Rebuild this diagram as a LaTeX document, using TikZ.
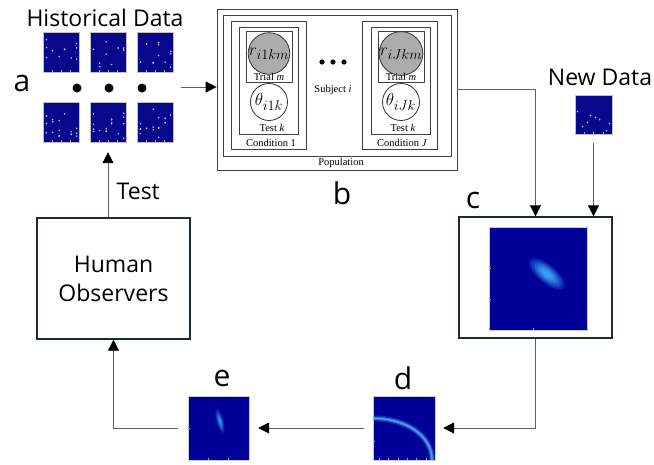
\documentclass[tikz,border=0pt]{standalone}
\usepackage{fontspec}
\setmainfont{Open Sans}
\newfontfamily\platefont{Liberation Serif}
\usetikzlibrary{arrows.meta,positioning,calc,fit}

\definecolor{thumbblue}{RGB}{8,8,140}
\definecolor{heat}{RGB}{0,0,152}
\definecolor{dotgray}{RGB}{190,190,220}
\definecolor{glow}{RGB}{60,170,255}
\definecolor{wire}{RGB}{95,95,95}
\definecolor{frame}{RGB}{30,42,55}
\definecolor{platefill}{RGB}{172,172,172}

\tikzstyle{arrow} = [
    line width=0.8pt,
    draw=wire,
    -{Triangle[length=11pt,width=11pt,color=black]}
]
\tikzstyle{thumb} = [
    rectangle,
    draw=gray!50,
    fill=thumbblue,
    minimum width=36pt,
    minimum height=40pt,
    inner sep=0pt
]
\tikzstyle{heatmap} = [
    rectangle,
    draw=gray!40,
    fill=heat,
    inner sep=0pt
]
\tikzstyle{panel} = [
    rectangle,
    draw=frame,
    line width=1.3pt,
    inner sep=0pt
]
\tikzstyle{plate} = [
    rectangle,
    draw=black!75,
    line width=0.8pt,
    inner sep=0pt
]
\tikzstyle{var} = [
    circle,
    draw=black!80,
    line width=0.8pt,
    minimum size=37pt,
    inner sep=0pt,
    font=\fontsize{19}{22}\selectfont
]
\tikzstyle{tag} = [font=\fontsize{30}{34}\selectfont]
\tikzstyle{title} = [font=\fontsize{23}{29}\selectfont]
\tikzstyle{platelabel} = [font=\platefont\fontsize{10.5}{12}\selectfont, inner sep=0pt]

% scattered response dots in columns
\newcommand{\scatterdots}[1]{%
  \foreach \cx in {0.1,0.27,0.45,0.6,0.78,0.93}{
    \pgfmathsetmacro{\ny}{int(1+4*rnd)}
    \foreach \k in {1,...,\ny}{
      \pgfmathsetmacro{\cy}{0.1+0.75*rnd}
      \fill[dotgray] ($(#1.south west)!\cx!(#1.south east) + (0,-\cy*40)$) circle (0.9);
    }
  }}

% small axis ticks on a map
\newcommand{\mapticks}[3]{%
  \foreach \f in {#2}
    \draw[gray!70, line width=0.5pt] ($(#1.south west)!\f!(#1.south east)$) -- ++(0,-2.5);
  \foreach \f in {#3}
    \draw[gray!70, line width=0.5pt] ($(#1.south west)!\f!(#1.north west)$) -- ++(2.5,0);}

% soft glowing blob: centre, angle, half length, half width, strength
\newcommand{\blob}[5]{%
  \foreach \s/\o in {1/0.10,0.85/0.12,0.7/0.15,0.55/0.2,0.4/0.25,0.25/0.3}
    \fill[glow, opacity=#5*\o, rotate around={#2:#1}] #1 ellipse ({#3*\s} and {#4*\s});}

\begin{document}
\begin{tikzpicture}[x=1pt, y=-1pt]
    \useasboundingbox (0,0) rectangle (654,464);
    \pgfmathsetseed{11}

    % a: historical data
    \node[title] (histlbl) at (105,18) {Historical Data};
    \node[tag] (alab) at (22,83) {a};
    \foreach \i/\x in {1/61,2/108,3/155}{
        \node[thumb] (top\i) at (\x,52) {};
        \node[thumb] (bot\i) at (\x,122) {};
        \scatterdots{top\i}
        \scatterdots{bot\i}
        \mapticks{top\i}{0.25,0.5,0.75}{}
        \mapticks{bot\i}{0.25,0.5,0.75}{}
    }
    \foreach \x in {77,109,142}
        \fill (\x,88) circle (4.5);
    \node[fit=(top1)(bot3), inner sep=8pt] (hist) {};

    % b: hierarchical model
    \node[plate, minimum width=240pt, minimum height=161pt] (pop) at (337,89.5) {};
    \node[plate, minimum width=228pt, minimum height=141pt] (subj) at (337,85.5) {};
    \node[plate, minimum width=75pt, minimum height=128pt] (cond1) at (268.5,85) {};
    \node[plate, minimum width=59pt, minimum height=107pt] (test1) at (268.5,80.5) {};
    \node[plate, minimum width=46pt, minimum height=51pt] (trial1) at (269,56.5) {};
    \node[var, fill=platefill] (r1) at (269,53.5) {$r_{i1km}$};
    \node[var, fill=white] (th1) at (269,102) {$\theta_{i1k}$};
    \node[plate, minimum width=75pt, minimum height=128pt] (condJ) at (399.5,85) {};
    \node[plate, minimum width=59pt, minimum height=107pt] (testJ) at (401,80.5) {};
    \node[plate, minimum width=46pt, minimum height=51pt] (trialJ) at (401,56.5) {};
    \node[var, fill=platefill] (rJ) at (401,53.5) {$r_{iJkm}$};
    \node[var, fill=white] (thJ) at (401,102) {$\theta_{iJk}$};
    \node[platelabel] (trial1lbl) at (269,77) {Trial \textit{m}};
    \node[platelabel] (trialJlbl) at (401,77) {Trial \textit{m}};
    \node[platelabel] (test1lbl) at (272,128) {Test \textit{k}};
    \node[platelabel] (testJlbl) at (403,128) {Test \textit{k}};
    \node[platelabel] (cond1lbl) at (271,143) {Condition 1};
    \node[platelabel] (condJlbl) at (402,143) {Condition \textit{J}};
    \node[platelabel] (subjlbl) at (333,90) {Subject \textit{i}};
    \node[platelabel] (poplbl) at (341,163) {Population};
    \foreach \x in {322,333,344}
        \fill (\x,62) circle (2.6);
    \node[tag] (blab) at (342,193) {b};

    % new data
    \node[title] (newlbl) at (600,77) {New Data};
    \node[thumb, minimum width=37pt, minimum height=39pt] (newd) at (593.5,114.5) {};
    \foreach \u/\v in {-16/-3,-3/1,-6/8,2/3,6/5,13/16,16/9,0/18,-11/12}
        \fill[dotgray] ($(newd.center)+(\u,\v)$) circle (0.9);
    \mapticks{newd}{0.25,0.5,0.75}{}

    % c: posterior
    \node[panel, minimum width=153pt, minimum height=121pt] (cpanel) at (535.5,277.5) {};
    \node[heatmap, minimum width=98pt, minimum height=103pt] (cmap) at (538,278.5) {};
    \begin{scope}
        \clip (cmap.south west) rectangle (cmap.north east);
        \blob{(547,274)}{-40}{22}{9}{1.9}
    \end{scope}
    \mapticks{cmap}{0,0.45,1}{0.3,0.6}
    \node[tag] (clab) at (473,200) {c};

    % d: predicted curve
    \node[heatmap, minimum width=62pt, minimum height=64pt] (dmap) at (404,428) {};
    \coordinate (dstart) at ($(dmap.north west)!0.35!(dmap.south west)$);
    \coordinate (dend) at ($(dmap.south west)!0.95!(dmap.south east)$);
    \begin{scope}
        \clip (dmap.south west) rectangle (dmap.north east);
        \foreach \w/\o in {6/0.2, 3.5/0.45, 1.3/0.7}
            \draw[glow!85!white, line width=\w pt, opacity=\o]
                (dstart) .. controls ++(34,0) and ++(0,-24) .. (dend);
    \end{scope}
    \mapticks{dmap}{0.1,0.25,0.4,0.55,0.7,0.85}{0.3,0.65}
    \node[tag] (dlab) at (403,378) {d};

    % e: selected stimulus
    \node[heatmap, minimum width=61pt, minimum height=64pt] (emap) at (218.5,428) {};
    \begin{scope}
        \clip (emap.south west) rectangle (emap.north east);
        \blob{(220,421)}{-75}{13}{3.5}{1.3}
    \end{scope}
    \mapticks{emap}{0.33,0.66}{0.5}
    \node[tag] (elab) at (222,378) {e};

    % human observers
    \node[panel, minimum width=153pt, minimum height=121pt, title, align=center] (human)
        at (113.5,278.5) {Human\\Observers};

    % connectors
    \draw[arrow] (hist.east) -- (hist.east -| pop.west);
    \draw[arrow] (pop.east) -| (cpanel.north);
    \draw[arrow, shorten <=9pt] (newd.south) -- (newd.south |- cpanel.north);
    \draw[arrow, shorten >=8pt] (cpanel.south) |- (dmap.east);
    \draw[arrow, shorten <=9pt, shorten >=9pt] (dmap.west) -- (emap.east);
    \draw[arrow, shorten <=10pt] (emap.west) -| (human.south);
    \draw[arrow, shorten >=10pt] (human.north -| bot2.south) -- (bot2.south)
        node[pos=0.35, right=5pt, title] {Test};
\end{tikzpicture}
\end{document}
